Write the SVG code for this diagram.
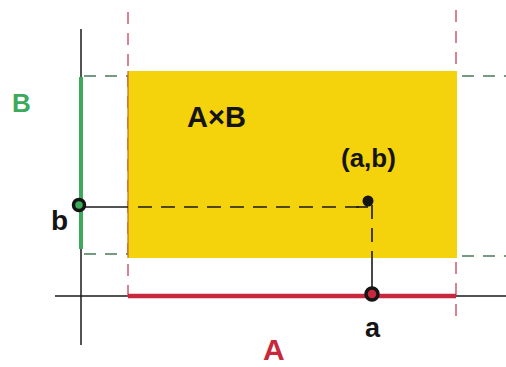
<svg xmlns="http://www.w3.org/2000/svg" width="506" height="367" viewBox="0 0 506 367">
<style>
.lbl{font-family:"Liberation Sans",Arial,sans-serif;font-weight:bold}
.axis{stroke:#1a1a1a;stroke-width:1.5;fill:none}
.rdash{stroke:#c8405a;stroke-width:1.3;stroke-dasharray:12 9;fill:none}
.gdash{stroke:#4a7a5a;stroke-width:1.3;stroke-dasharray:12 9;fill:none}
.kdash{stroke:#1a1a1a;stroke-width:1.6;stroke-dasharray:14 9;fill:none}
</style>
<rect width="506" height="367" fill="#ffffff"/>
<g id="connectors">
<line class="axis" x1="81" y1="29" x2="81" y2="345"/>
<line class="axis" x1="55" y1="296" x2="506" y2="296"/>
<line class="rdash" x1="128" y1="12" x2="128" y2="306"/>
<line class="rdash" x1="456" y1="10" x2="456" y2="316"/>
<line class="gdash" x1="84" y1="76" x2="128" y2="76"/>
<line class="gdash" x1="462" y1="76" x2="506" y2="76"/>
<line class="gdash" x1="84" y1="254" x2="128" y2="254"/>
<line class="gdash" x1="462" y1="256" x2="506" y2="256"/>
</g>
<g id="AxB">
<rect x="128" y="71" width="329" height="187" fill="#f4d20c"/>
<line x1="128" y1="71" x2="128" y2="258" stroke="#c86a1a" stroke-width="1.2"/>
<text class="lbl" x="187" y="127" font-size="29" fill="#141414">A×B</text>
</g>
<g id="setB">
<line x1="81" y1="77" x2="81" y2="249" stroke="#3caa5a" stroke-width="4"/>
<text class="lbl" x="12" y="112" font-size="26" fill="#3caa5a">B</text>
</g>
<g id="setA">
<line x1="128" y1="296" x2="456" y2="296" stroke="#c8283c" stroke-width="4.5"/>
<text class="lbl" x="263" y="360" font-size="30" fill="#c8283c">A</text>
</g>
<g id="guides">
<line x1="84" y1="207" x2="128" y2="207" stroke="#1a1a1a" stroke-width="1.6"/>
<line class="kdash" x1="138" y1="207" x2="368" y2="207"/>
<line x1="368" y1="207" x2="356" y2="207" stroke="#1a1a1a" stroke-width="1.6"/>
<line class="kdash" x1="372" y1="205" x2="372" y2="258"/>
<line x1="372" y1="258" x2="372" y2="290" stroke="#1a1a1a" stroke-width="1.6"/>
</g>
<g id="point-ab">
<circle cx="368" cy="201" r="5.5" fill="#141414"/>
<text class="lbl" x="341" y="167" font-size="26" fill="#141414">(a,b)</text>
</g>
<g id="point-b">
<circle cx="79" cy="205" r="5.5" fill="#3caa5a" stroke="#141414" stroke-width="3.5"/>
<text class="lbl" x="51" y="230" font-size="28" fill="#141414">b</text>
</g>
<g id="point-a">
<circle cx="372" cy="294" r="6" fill="#c8283c" stroke="#141414" stroke-width="3.5"/>
<text class="lbl" x="365" y="337" font-size="27" fill="#141414">a</text>
</g>
</svg>
